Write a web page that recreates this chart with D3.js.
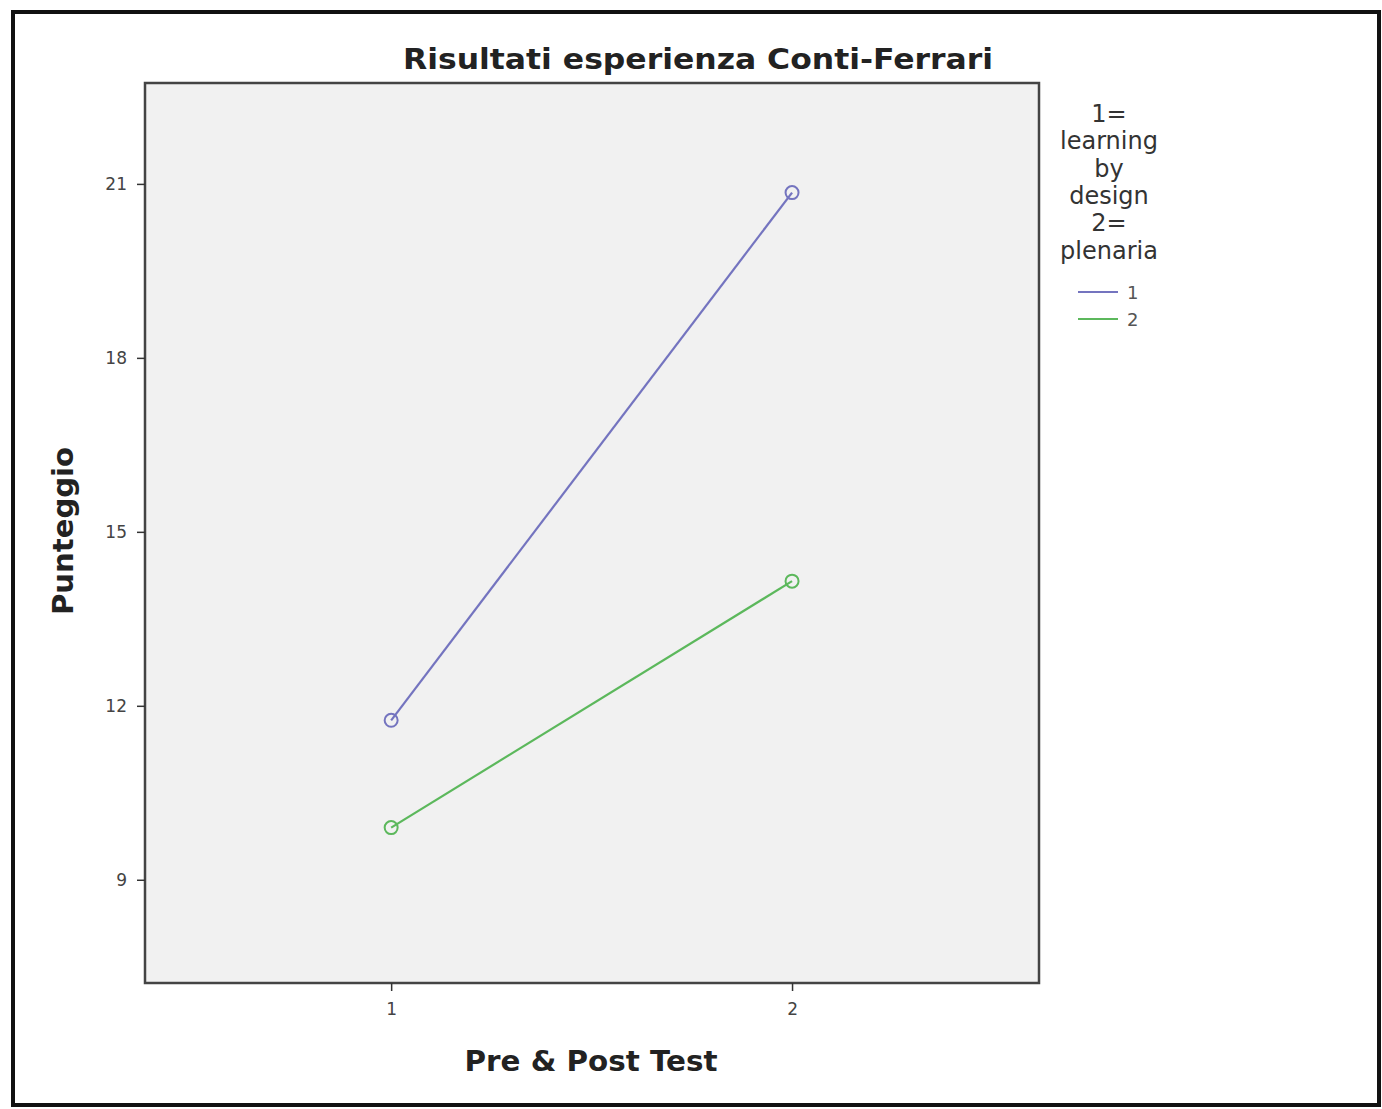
<!DOCTYPE html>
<html><head><meta charset="utf-8">
<script src="https://cdn.jsdelivr.net/npm/d3@7"></script>
<style>body{margin:0;background:#fff;} svg{display:block;}</style>
</head><body>
<svg id="chart" width="1382" height="1109"></svg>
<script>
const categories = [1, 2];
const seriesNames = ["1", "2"];
const series1 = [11.75, 20.85];
const series2 = [9.9, 14.15];
const yTicks = [9, 12, 15, 18, 21];
const colors = ["#7474bf", "#5cb85c"];
const legendTitle = ["1=", "learning", "by", "design", "2=", "plenaria"];

const svg = d3.select("#chart");
const font = "'DejaVu Sans', 'Open Sans', sans-serif";

// outer border
svg.append("rect").attr("x", 13).attr("y", 12).attr("width", 1366).attr("height", 1093)
  .attr("fill", "#fff").attr("stroke", "#111").attr("stroke-width", 4);

const L = 145, T = 83, R = 1039, B = 983;
const x = d3.scaleLinear().domain([0.386, 2.616]).range([L, R]);
const y = d3.scaleLinear().domain([7.22, 22.74]).range([B, T]);

svg.append("rect").attr("x", L).attr("y", T).attr("width", R - L).attr("height", B - T)
  .attr("fill", "#f1f1f1").attr("stroke", "#444").attr("stroke-width", 2.5);

// y axis
const yAxis = d3.axisLeft(y).tickValues(yTicks).tickSize(8).tickPadding(10);
const gy = svg.append("g").attr("transform", `translate(${L},0)`).call(yAxis);
gy.select(".domain").remove();
gy.selectAll(".tick line").attr("stroke", "#333").attr("stroke-width", 1.5);
gy.selectAll(".tick text").attr("font-family", font).attr("font-size", 17).attr("fill", "#444");

// x axis
const xAxis = d3.axisBottom(x).tickValues(categories).tickSize(8).tickPadding(12).tickFormat(d3.format("d"));
const gx = svg.append("g").attr("transform", `translate(0,${B})`).call(xAxis);
gx.select(".domain").remove();
gx.selectAll(".tick line").attr("stroke", "#333").attr("stroke-width", 1.5);
gx.selectAll(".tick text").attr("font-family", font).attr("font-size", 17).attr("fill", "#444");

// lines
const data = [series1, series2];
const line = d3.line().x((d, i) => x(categories[i])).y(d => y(d));
data.forEach((vals, s) => {
  svg.append("path").datum(vals).attr("d", line).attr("fill", "none")
    .attr("stroke", colors[s]).attr("stroke-width", 2.2);
  svg.selectAll(null).data(vals).enter().append("circle")
    .attr("cx", (d, i) => x(categories[i])).attr("cy", d => y(d)).attr("r", 6.5)
    .attr("fill", "none").attr("stroke", colors[s]).attr("stroke-width", 2);
});

// title
svg.append("text").attr("x", 698).attr("y", 69).attr("text-anchor", "middle")
  .attr("font-family", font).attr("font-weight", "bold").attr("font-size", 29).attr("fill", "#222")
  .attr("textLength", 590).attr("lengthAdjust", "spacingAndGlyphs")
  .text("Risultati esperienza Conti-Ferrari");

// axis titles
svg.append("text").attr("x", 591).attr("y", 1071).attr("text-anchor", "middle")
  .attr("font-family", font).attr("font-weight", "bold").attr("font-size", 28).attr("fill", "#222")
  .attr("textLength", 253).attr("lengthAdjust", "spacingAndGlyphs")
  .text("Pre & Post Test");
svg.append("text").attr("transform", "translate(73,531) rotate(-90)").attr("text-anchor", "middle")
  .attr("font-family", font).attr("font-weight", "bold").attr("font-size", 28).attr("fill", "#222")
  .attr("textLength", 168).attr("lengthAdjust", "spacingAndGlyphs")
  .text("Punteggio");

// legend
const lg = svg.append("g");
legendTitle.forEach((t, i) => {
  lg.append("text").attr("x", 1109).attr("y", 122 + i * 27.3).attr("text-anchor", "middle")
    .attr("font-family", font).attr("font-size", 24).attr("fill", "#333").text(t);
});
seriesNames.forEach((n, i) => {
  const yy = 292 + i * 27;
  lg.append("line").attr("x1", 1078).attr("x2", 1118).attr("y1", yy).attr("y2", yy)
    .attr("stroke", colors[i]).attr("stroke-width", 2);
  lg.append("text").attr("x", 1127).attr("y", yy + 7).attr("font-family", font)
    .attr("font-size", 18).attr("fill", "#555").text(n);
});
</script>
</body></html>
